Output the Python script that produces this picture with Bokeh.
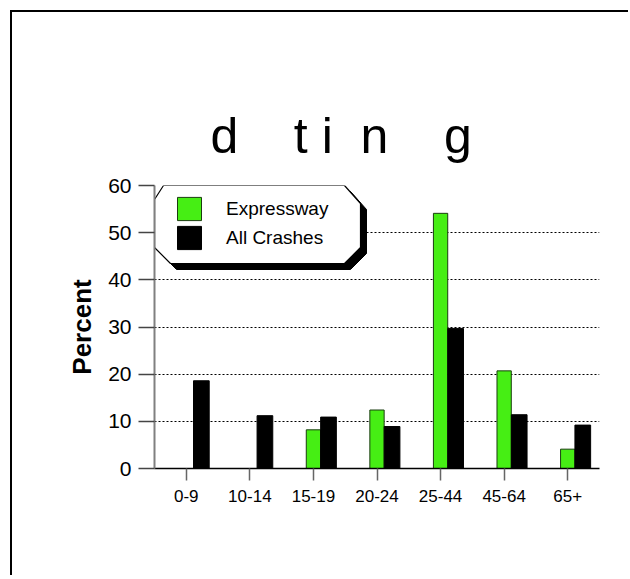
import numpy as np
from bokeh.plotting import figure
from bokeh.models import (Range1d, FixedTicker, Legend, LegendItem, ColumnDataSource)
from bokeh.embed import file_html
from bokeh.resources import INLINE

# ---- data ----
categories = ["0-9", "10-14", "15-19", "20-24", "25-44", "45-64", "65+"]
expressway = [0, 0, 8.2, 12.4, 54.1, 20.7, 4.1]
all_crashes = [18.6, 11.2, 10.9, 8.9, 29.7, 11.4, 9.2]
y_ticks = [0, 10, 20, 30, 40, 50, 60]
series_names = ["Expressway", "All Crashes"]
title_text = "d\u00a0\u00a0\u00a0\u00a0t\u00a0i\u00a0\u00a0n\u00a0\u00a0\u00a0\u00a0g"
y_label = "Percent"

# ---- layout ----
W, H = 618, 565
BL, BR, BT, BB = 142, 31, 173, 109
FRAME_W = W - BL - BR
FRAME_H = H - BT - BB
FONT = "Liberation Sans"
GREEN = "#46EE14"

n = len(categories)
x0, x1 = -0.5, n - 0.5
y0, y1 = 0, 60

p = figure(width=W, height=H, x_range=Range1d(x0, x1), y_range=Range1d(y0, y1),
           output_backend="svg", toolbar_location=None,
           min_border_left=BL, min_border_right=BR, min_border_top=BT, min_border_bottom=BB)
p.styles = {"margin-left": "10px", "margin-top": "10px",
            "border-top": "2px solid black", "border-left": "2px solid black",
            "border-right": "none", "border-bottom": "none",
            "outline": "none", "box-shadow": "none"}
p.outline_line_color = None
p.background_fill_color = "white"
p.border_fill_color = "white"

# title
p.title.text = title_text
p.title.text_font = FONT
p.title.text_font_size = "50px"
p.title.text_font_style = "normal"
p.title.text_color = "black"
p.title.align = "left"
p.title.offset = 56
p.title.standoff = 44

# x axis
xs = np.arange(n)
p.xaxis.ticker = FixedTicker(ticks=list(xs))
p.xaxis.major_label_overrides = {int(i): c for i, c in zip(xs, categories)}
p.xaxis.axis_line_color = "black"
p.xaxis.axis_line_width = 1.5
p.xaxis.major_tick_line_color = "#666666"
p.xaxis.major_tick_line_width = 1.5
p.xaxis.major_tick_out = 12
p.xaxis.major_tick_in = 0
p.xaxis.minor_tick_line_color = None
p.xaxis.major_label_text_font = FONT
p.xaxis.major_label_text_font_size = "17px"
p.xaxis.major_label_text_color = "black"
p.xaxis.major_label_standoff = 9

# y axis
p.yaxis.ticker = FixedTicker(ticks=y_ticks)
p.yaxis.axis_line_color = "#808080"
p.yaxis.axis_line_width = 2
p.yaxis.major_tick_line_color = "#444444"
p.yaxis.major_tick_line_width = 1.5
p.yaxis.major_tick_out = 16
p.yaxis.major_tick_in = 0
p.yaxis.minor_tick_line_color = None
p.yaxis.major_label_text_font = FONT
p.yaxis.major_label_text_font_size = "21px"
p.yaxis.major_label_text_color = "black"
p.yaxis.major_label_standoff = 7
p.yaxis.axis_label = y_label
p.yaxis.axis_label_text_font = FONT
p.yaxis.axis_label_text_font_size = "26px"
p.yaxis.axis_label_text_font_style = "bold"
p.yaxis.axis_label_text_color = "black"
p.yaxis.axis_label_standoff = 8

# grid
p.xgrid.visible = False
p.ygrid.ticker = FixedTicker(ticks=y_ticks[1:])
p.ygrid.grid_line_color = "black"
p.ygrid.grid_line_dash = "2 2"
p.ygrid.grid_line_width = 1

# ---- legend box decoration (frame-relative pixels -> data) ----
def fx(u):
    return x0 + u / FRAME_W * (x1 - x0)

def fy(v):
    return y1 - v / FRAME_H * (y1 - y0)

LW, LH, C, SH = 206, 78, 16, 6
oct_u = [9, LW - C, LW, LW, LW - C, C, 0, 0]
oct_v = [0, 0, C + 2, LH - C, LH, LH, LH - C, 14]
p.patch([fx(u + SH) for u in oct_u], [fy(v + SH) for v in oct_v],
        fill_color="black", line_color="black")
p.patch([fx(u) for u in oct_u], [fy(v) for v in oct_v],
        fill_color="white", line_color="black", line_width=1.2)

# ---- bars ----
BAR_W_E, BAR_W_A, OFF = 0.225, 0.247, 0.237
src = ColumnDataSource(dict(xe=xs.astype(float), xa=xs + OFF,
                            e=expressway, a=all_crashes))
r1 = p.vbar(x="xe", top="e", width=BAR_W_E, source=src,
            fill_color=GREEN, line_color="#1b3d10", line_width=1)
r2 = p.vbar(x="xa", top="a", width=BAR_W_A, source=src,
            fill_color="black", line_color="black", line_width=1)

legend = Legend(items=[LegendItem(label=series_names[0], renderers=[r1]),
                       LegendItem(label=series_names[1], renderers=[r2])],
                location=(20, 216), padding=0, spacing=0, margin=0,
                glyph_width=30, glyph_height=29, label_standoff=22,
                label_text_font=FONT, label_text_font_size="19px",
                label_text_color="black",
                background_fill_alpha=0, border_line_alpha=0)
p.add_layout(legend)

open("out.html", "w").write(file_html(p, INLINE))
